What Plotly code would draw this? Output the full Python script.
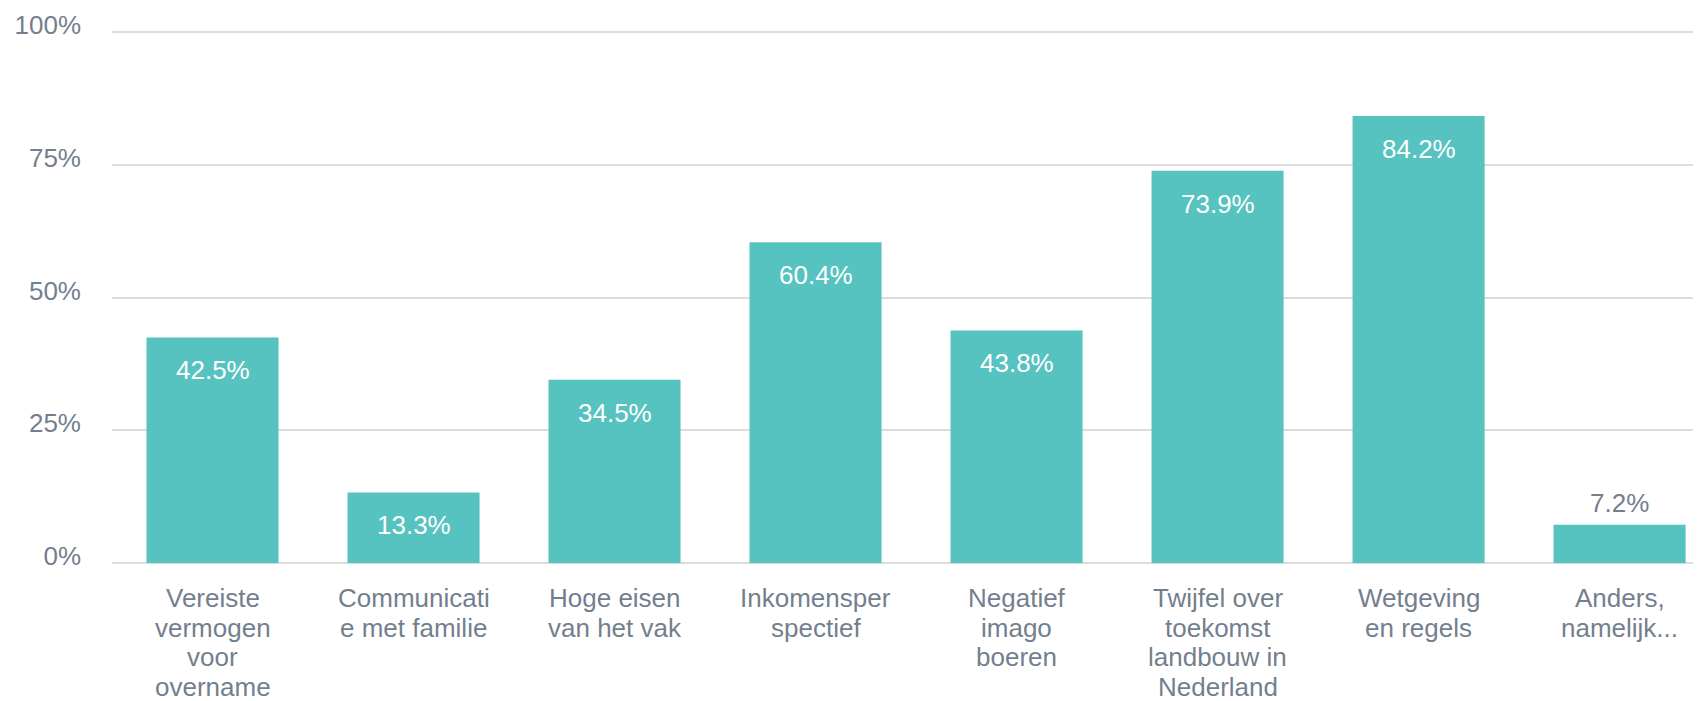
import plotly.graph_objects as go

CATEGORIES = [
    "Vereiste vermogen voor overname",
    "Communicatie met familie",
    "Hoge eisen van het vak",
    "Inkomensperspectief",
    "Negatief imago boeren",
    "Twijfel over toekomst landbouw in Nederland",
    "Wetgeving en regels",
    "Anders, namelijk...",
]
# tick labels as wrapped in the original
CATEGORY_LINES = [
    ["Vereiste", "vermogen", "voor", "overname"],
    ["Communicati", "e met familie"],
    ["Hoge eisen", "van het vak"],
    ["Inkomensper", "spectief"],
    ["Negatief", "imago", "boeren"],
    ["Twijfel over", "toekomst", "landbouw in", "Nederland"],
    ["Wetgeving", "en regels"],
    ["Anders,", "namelijk..."],
]
SHARES = [0.425, 0.133, 0.345, 0.604, 0.438, 0.739, 0.842, 0.072]
Y_TICKS = [0, 0.25, 0.5, 0.75, 1.0]
Y_TICK_LABELS = ["0%", "25%", "50%", "75%", "100%"]

BAR_COLOR = "#57c3c0"
TEXT_COLOR = "#737f8e"
GRID_COLOR = "#dcdcdc"
FONT = "Liberation Sans, Arial, sans-serif"
FONT_SIZE = 26

fig = go.Figure(
    go.Bar(
        x=CATEGORIES,
        y=SHARES,
        marker=dict(color=BAR_COLOR, line=dict(width=0)),
        hovertemplate="%{x}: %{y:.1%}<extra></extra>",
    )
)

# value labels: inside the top of tall bars, above the short ones
for cat, v in zip(CATEGORIES, SHARES):
    inside = v > 0.1
    fig.add_annotation(
        x=cat,
        y=v,
        text=f"{v * 100:.1f}%",
        showarrow=False,
        yanchor="middle",
        yshift=-33 if inside else 22,
        font=dict(family=FONT, size=FONT_SIZE, color="#ffffff" if inside else TEXT_COLOR),
    )

# category labels, one annotation per line to get the tight line spacing
for cat, lines in zip(CATEGORIES, CATEGORY_LINES):
    for i, line in enumerate(lines):
        fig.add_annotation(
            x=cat,
            y=0,
            text=line,
            showarrow=False,
            yanchor="middle",
            yshift=-(35 + i * 29.7),
            font=dict(family=FONT, size=FONT_SIZE, color=TEXT_COLOR),
        )

fig.update_layout(
    width=1693,
    height=693,
    margin=dict(t=22, b=138, l=104, r=0),
    paper_bgcolor="#ffffff",
    plot_bgcolor="#ffffff",
    font=dict(family=FONT, size=FONT_SIZE, color=TEXT_COLOR),
    bargap=0.343,
    showlegend=False,
    xaxis=dict(
        range=[-0.5, 7.405],
        showgrid=False,
        showline=False,
        showticklabels=False,
        ticks="",
        automargin=False,
    ),
    yaxis=dict(
        range=[0, 1.004],
        tickvals=Y_TICKS,
        ticktext=Y_TICK_LABELS,
        showgrid=True,
        gridcolor=GRID_COLOR,
        gridwidth=1.5,
        zeroline=True,
        zerolinecolor=GRID_COLOR,
        zerolinewidth=1.5,
        showline=False,
        ticks="",
        ticklabelstandoff=30,
        ticklabelshift=-7,
        automargin=False,
    ),
)

fig.write_html("out.html")
